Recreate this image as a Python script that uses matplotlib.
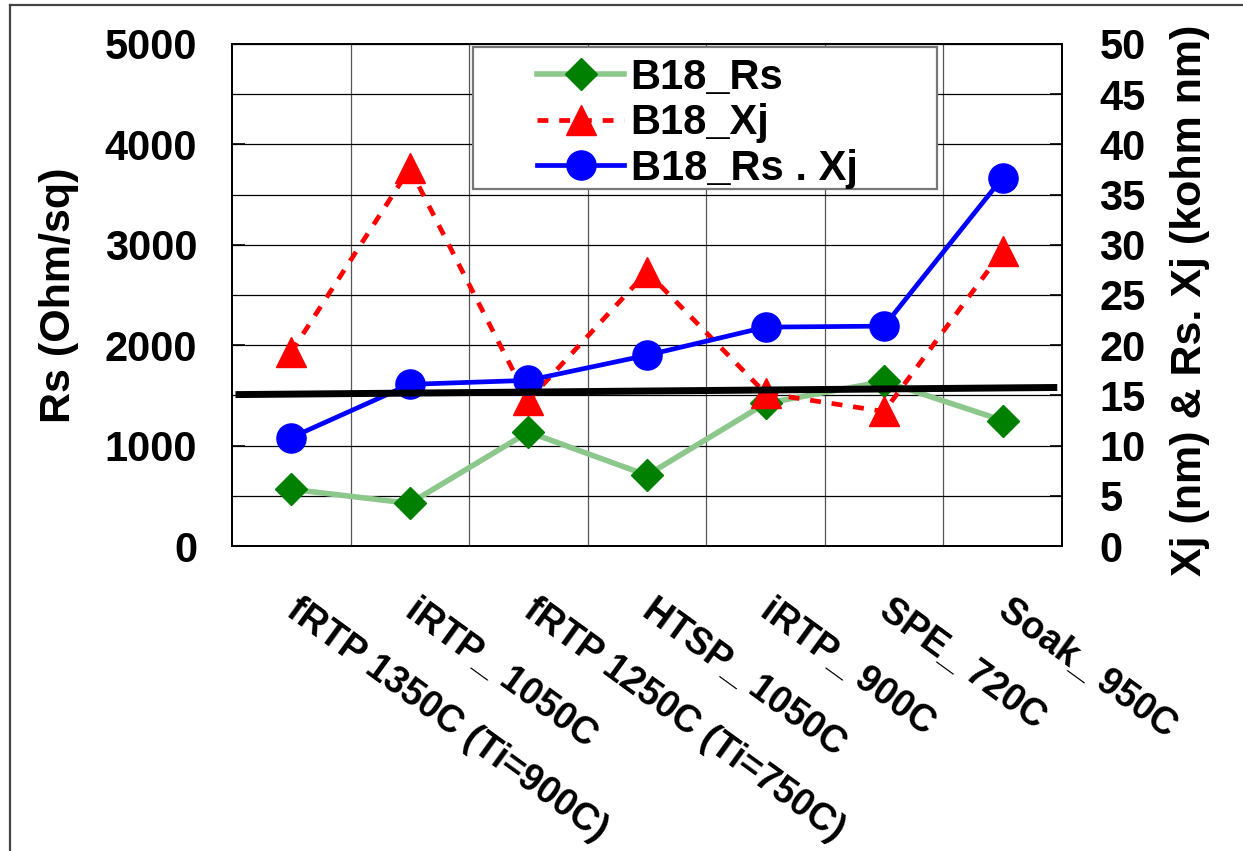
import matplotlib
matplotlib.use("Agg")
import matplotlib.pyplot as plt
from matplotlib.patches import Rectangle
from matplotlib.lines import Line2D
from matplotlib.transforms import ScaledTranslation

plt.rcParams['font.family'] = ['Liberation Sans', 'DejaVu Sans']
plt.rcParams['font.weight'] = 'bold'
plt.rcParams['axes.labelweight'] = 'bold'

# data
categories = ["fRTP 1350C (Ti=900C)", "iRTP_ 1050C", "fRTP 1250C (Ti=750C)",
              "HTSP_ 1050C", "iRTP_ 900C", "SPE_ 720C", "Soak_ 950C"]
rs = [565, 425, 1135, 705, 1420, 1640, 1250]          # Ohm/sq, left axis
xj = [19.3, 37.6, 14.5, 27.3, 15.2, 13.4, 29.4]       # nm, right axis
rs_xj = [10.8, 16.1, 16.5, 19.0, 21.8, 21.9, 36.7]    # kohm nm, right axis
trend_x = [-0.47, 6.46]
trend_rs = [1508, 1579]

fig = plt.figure(figsize=(12.43, 8.51), dpi=100)
ax = fig.add_axes([0.1866, 0.3584, 0.6678, 0.5899])
ax2 = ax.twinx()

x = list(range(len(categories)))

# left axis
ax.set_xlim(-0.5, 6.5)
ax.set_ylim(0, 5000)
ax.set_yticks([0, 1000, 2000, 3000, 4000, 5000])
ax.set_yticks([500, 1500, 2500, 3500, 4500], minor=True)
ax.set_xticks(x)
ax.set_xticks([i + 0.5 for i in x[:-1]], minor=True)
ax.grid(True, which='both', axis='y', color='black', lw=0.9)
ax.grid(True, which='minor', axis='x', color='#555555', lw=0.9)
ax.tick_params(axis='y', which='major', direction='in', length=9, width=1.2,
               labelsize=30, pad=25)
ax.tick_params(axis='y', which='minor', length=0)
ax.tick_params(axis='x', which='both', length=0)
ax.set_xticklabels(categories, rotation=-36, ha='left', va='top',
                   rotation_mode='anchor', fontsize=27)
ax.tick_params(axis='x', pad=33)
for lbl in ax.get_xticklabels():
    lbl.set_transform(lbl.get_transform() + ScaledTranslation(7 / 72, 0, fig.dpi_scale_trans))
ax.set_ylabel("Rs (Ohm/sq)", fontsize=31)
ax.yaxis.set_label_coords(-0.184, 0.5)

# right axis
ax2.set_ylim(0, 50)
ax2.set_yticks(range(0, 51, 5))
ax2.tick_params(axis='y', direction='in', length=9, width=1.2, labelsize=30, pad=27)
ax2.set_ylabel("Xj (nm) & Rs. Xj (kohm nm)", fontsize=31)
ax2.yaxis.set_label_coords(1.13, 0.49)

for a in (ax, ax2):
    for s in a.spines.values():
        s.set_linewidth(1.3)

# series
l1, = ax.plot(x, rs, color='#8cc88c', lw=4, marker='D', ms=16,
              mfc='#008000', mec='#008000', label='B18_Rs', zorder=3)
l2, = ax2.plot(x, xj, color='red', lw=3.4, ls=(0, (2.3, 2.3)), marker='^', ms=21.5,
               mfc='red', mec='red', label='B18_Xj', zorder=3)
l3, = ax2.plot(x, rs_xj, color='blue', lw=3.4, marker='o', ms=21,
               mfc='blue', mec='blue', label='B18_Rs . Xj', zorder=3)
ax2.plot(trend_x, trend_rs, color='black', lw=5, transform=ax.transData, zorder=4,
         solid_capstyle='butt')

# legend box
ax2.add_patch(Rectangle((0.2904, 0.711), 0.559, 0.283, transform=ax2.transAxes,
                        facecolor='white', edgecolor='#777777', lw=1.6, zorder=5))
leg = ax2.legend(handles=[l1, l2, l3], loc='upper left',
                 bbox_to_anchor=(0.3675, 0.972), frameon=False, fontsize=30,
                 handlelength=2.1, handletextpad=0.15, borderpad=0,
                 labelspacing=0.13, borderaxespad=0)
leg.set_zorder(6)

# outer frame
fig.add_artist(Line2D([10 / 1243, 1], [1 - 5 / 851, 1 - 5 / 851], transform=fig.transFigure,
                      color='#444444', lw=1.6))
fig.add_artist(Line2D([10.5 / 1243, 10.5 / 1243], [0, 1 - 5 / 851], transform=fig.transFigure,
                      color='#444444', lw=1.6))

fig.savefig("out.png", dpi=100)
